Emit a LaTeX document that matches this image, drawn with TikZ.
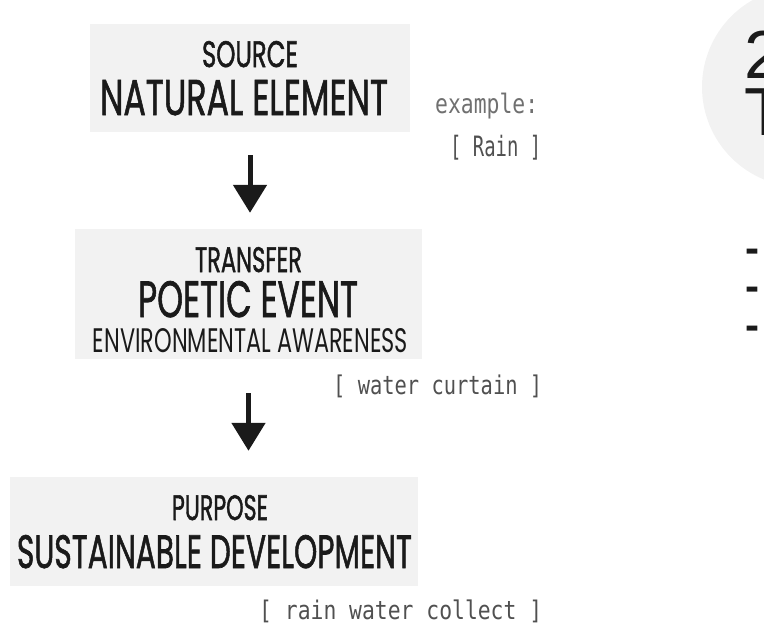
\documentclass[tikz,border=0pt]{standalone}
\usepackage{fontspec}
\usepackage{graphicx}
\usetikzlibrary{arrows.meta}
\newfontfamily\geofont[FakeBold=1.6]{Poppins}
\newfontfamily\thinfont{Poppins}
\newfontfamily\notefont{DejaVu Sans Mono}
\newfontfamily\bigfont{Liberation Sans}
\definecolor{boxgray}{HTML}{F2F2F2}
\definecolor{inkblack}{HTML}{1A1A1A}
\definecolor{notegray}{HTML}{505050}
\definecolor{lightnote}{HTML}{707070}
\newcommand{\squeeze}[3]{\resizebox{#1pt}{#2pt}{#3}}
\newcommand{\notefit}[3]{\resizebox*{#1pt}{#2pt}{#3}}
\tikzset{
  panel/.style={fill=boxgray,inner sep=0pt},
  title/.style={inner sep=0pt,anchor=base,text=inkblack,font=\geofont},
  note/.style={inner sep=0pt,anchor=west,text=notegray,font=\notefont},
  flow/.style={-{Triangle[width=33pt,length=28pt]},line width=5pt,draw=inkblack},
}
\begin{document}
\begin{tikzpicture}[x=1pt,y=-1pt,every node/.append style={inner sep=0pt}]
      \useasboundingbox (0,0) rectangle (764,637);
      \clip (0,0) rectangle (764,637);

      % circle on the right, cut by the page edge
      \fill [boxgray] (802,87) circle [radius=100];
      \node [anchor=base west,align=left,text=inkblack,font=\bigfont\fontsize{68pt}{57pt}\selectfont] (Head) at (744,135) {2\\T};
      \node [anchor=base west,align=left,text=inkblack,font=\bigfont\bfseries\fontsize{42pt}{38.5pt}\selectfont] (Dashes) at (745,339) {-\\-\\-};

      % boxes
      \node [panel,minimum width=320pt,minimum height=108pt] (Source) at (250,78) {};
      \node [panel,minimum width=347pt,minimum height=130pt] (Transfer) at (248.5,294) {};
      \node [panel,minimum width=408pt,minimum height=109pt] (Purpose) at (214,531.5) {};

      \node [title] (SourceTop) at (250,67) {\squeeze{96}{26}{SOURCE}};
      \node [title] (SourceName) at (244,115) {\squeeze{288}{35}{NATURAL ELEMENT}};

      \node [title] (TransferTop) at (248.5,272) {\squeeze{107}{25}{TRANSFER}};
      \node [title] (TransferName) at (248,317) {\squeeze{220}{36}{POETIC EVENT}};
      \node [title,font=\thinfont] (TransferNote) at (250.5,352) {\squeeze{315}{24}{ENVIRONMENTAL AWARENESS}};

      \node [title] (PurposeTop) at (220,520) {\squeeze{96}{25}{PURPOSE}};
      \node [title] (PurposeName) at (214.5,568) {\squeeze{395}{33}{SUSTAINABLE DEVELOPMENT}};

      % examples
      \node [note,text=lightnote] (Example) at (435,106) {\notefit{103}{26}{example:}};
      \node [note] (Rain) at (450,147.5) {\notefit{91}{25}{[ Rain ]}};
      \node [note] (Curtain) at (333,386.5) {\notefit{209}{23}{[ water curtain ]}};
      \node [note] (Collect) at (259,611.5) {\notefit{283}{23}{[ rain water collect ]}};

      \draw [flow,shorten <=23pt,shorten >=16pt] (Source.south)--(Source.south |- Transfer.north);
      \draw [flow,shorten <=34pt,shorten >=26pt] (Transfer.south)--(Transfer.south |- Purpose.north);
    \end{tikzpicture}
\end{document}
